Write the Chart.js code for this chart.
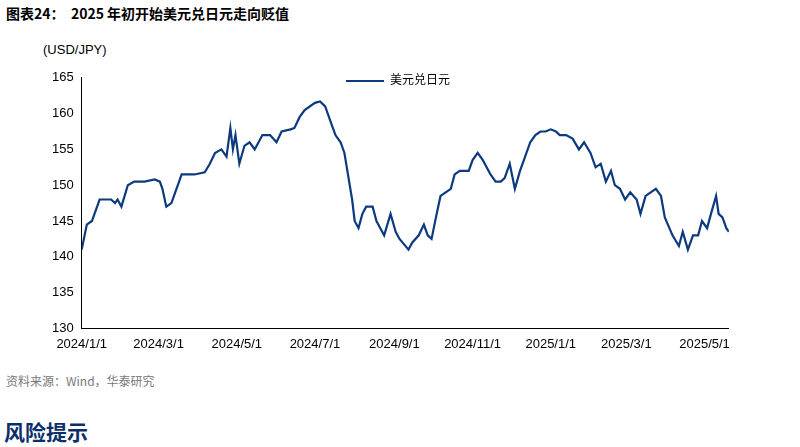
<!DOCTYPE html>
<html><head><meta charset="utf-8">
<script src="https://cdn.jsdelivr.net/npm/chart.js@4"></script>
<style>
body{margin:0;width:800px;height:447px;background:#fff;font-family:"Noto Sans CJK SC",sans-serif;position:relative;overflow:hidden}
#t{position:absolute;left:6px;top:3px;font-size:14px;font-weight:bold;color:#000}
#u{position:absolute;left:43px;top:42px;font-size:13px;font-family:"Liberation Sans",Arial;color:#000}
#c{position:absolute;left:49px;top:67px;width:684px;height:288px}
#s{position:absolute;left:6px;top:372px;font-size:12px;color:#777}
#r{position:absolute;left:4px;top:416px;font-size:21px;font-weight:bold;color:#0b2f6b}
#lg{position:absolute;left:346px;top:70px;font-size:12px;color:#000}
#lg span{display:inline-block;width:38px;border-top:2.5px solid #0b3a7e;vertical-align:middle;margin-right:6px}
</style></head><body>
<div id="t">图表24：&nbsp;&nbsp;2025 年初开始美元兑日元走向贬值</div>
<div id="u">(USD/JPY)</div>
<div id="c"><canvas id="cv"></canvas></div>
<div id="lg"><span></span>美元兑日元</div>
<div id="s">资料来源：Wind，华泰研究</div>
<div id="r">风险提示</div>
<script>
const days=[0,4,8,10,14,23,26,28,31,36,41,49,57,61,63,66,70,73,78,88,96,100,104,109,113,116,118,120,123,127,131,135,141,147,152,156,163,166,170,174,182,186,190,194,198,202,205,211,213,216,219,222,227,230,233,236,241,245,248,255,258,263,267,270,273,277,280,284,288,291,295,302,305,309,313,319,323,327,330,334,338,342,346,350,354,358,362,366,370,373,378,383,388,392,397,401,405,409,413,416,420,424,428,433,436,440,444,448,452,455,461,466,469,473,477,481,484,488,491,495,497,500,503,505];
const usdjpy=[141,144.5,145,146,148,148,147.5,148,147,150,150.5,150.5,150.8,150.5,149.5,147,147.5,149,151.5,151.5,151.8,153,154.5,155,154,158,155,157,153,155.5,156,155,157,157,156,157.5,157.8,158,159.5,160.5,161.5,161.7,161,159,157,156,154.5,148,145,144,146,147,147,145,144,143,146,143.5,142.5,141,142,143,144.5,143,142.5,146,148.5,149,149.5,151.5,152,152,153.5,154.5,153.5,151.5,150.5,150.5,151,153,149.5,152,154,156,157,157.5,157.5,157.8,157.5,157,157,156.5,155,156,154.5,152.5,153,150.5,152,150,149.5,148,149,148,146,148.5,149,149.5,148.5,145.5,143,141.5,143.5,141,143,143,145,144,146,148.5,146,145.5,144,143.5];
const tickDays=[0,60,121,182,244,305,366,425,486];
const tickLabels=["2024/1/1","2024/3/1","2024/5/1","2024/7/1","2024/9/1","2024/11/1","2025/1/1","2025/3/1","2025/5/1"];
const yTicks=[130,135,140,145,150,155,160,165];
const font={family:"Liberation Sans",size:13};
new Chart(document.getElementById('cv'),{type:'line',
data:{datasets:[{label:'美元兑日元',data:days.map((d,i)=>({x:d,y:usdjpy[i]})),borderColor:'#0b3a7e',borderWidth:2.2,pointRadius:0,tension:0}]},
options:{responsive:true,maintainAspectRatio:false,animation:false,
layout:{padding:{right:4,top:0}},
plugins:{legend:{display:false},tooltip:{enabled:false}},
scales:{x:{type:'linear',min:0,max:505,grid:{display:false,drawTicks:true,tickLength:5},border:{color:'#000'},
afterBuildTicks:a=>{a.ticks=tickDays.map(v=>({value:v}))},
ticks:{color:'#000',font,maxRotation:0,autoSkip:false,callback:v=>tickLabels[tickDays.indexOf(v)]}},
y:{min:130,max:165,grid:{display:false,tickLength:5},border:{color:'#000'},
afterBuildTicks:a=>{a.ticks=yTicks.map(v=>({value:v}))},ticks:{color:'#000',font}}}}});
</script></body></html>
